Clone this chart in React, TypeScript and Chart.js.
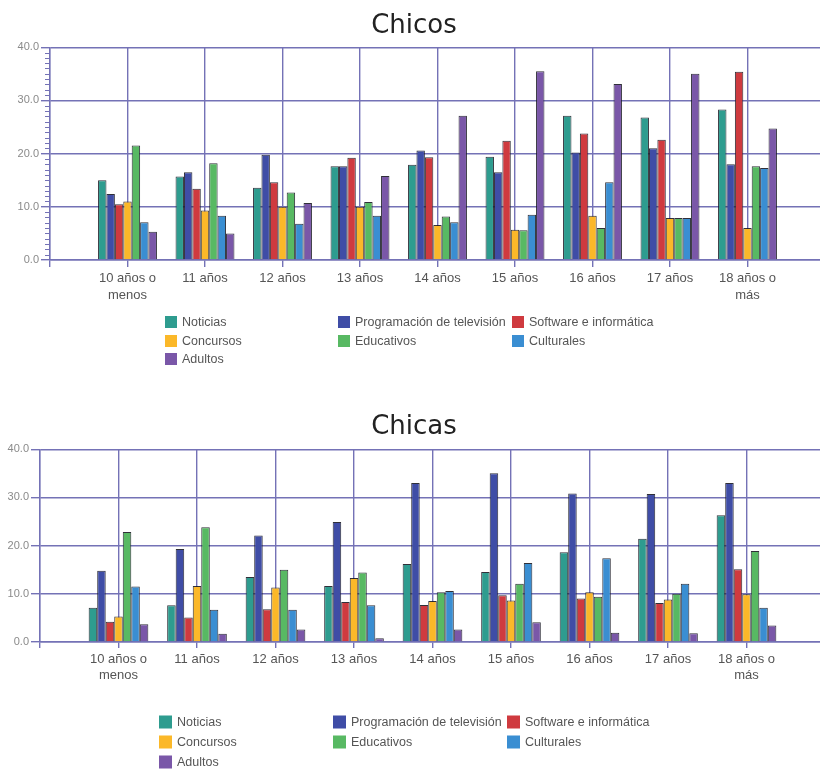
import React, { useEffect, useRef } from "react";
import { Chart, registerables } from "chart.js";

Chart.register(...registerables);

// ---------- data ----------
const categories: (string | string[])[] = [
  ["10 años o", "menos"],
  "11 años",
  "12 años",
  "13 años",
  "14 años",
  "15 años",
  "16 años",
  "17 años",
  ["18 años o", "más"],
];

const seriesNames = [
  "Noticias",
  "Programación de televisión",
  "Software e informática",
  "Concursos",
  "Educativos",
  "Culturales",
  "Adultos",
];

const seriesColors = [
  "#2E9C8F",
  "#3F4DA6",
  "#CF3A3F",
  "#FBB829",
  "#58B963",
  "#3A8ED2",
  "#7A57A8",
];

const yTicks = [0, 10, 20, 30, 40];

// Chicos
const chicosNoticias = [15.0, 15.7, 13.6, 17.6, 17.9, 19.4, 27.1, 26.8, 28.3];
const chicosProgramacion = [12.4, 16.5, 19.8, 17.6, 20.6, 16.5, 20.2, 21.0, 18.0];
const chicosSoftware = [10.5, 13.4, 14.6, 19.2, 19.3, 22.4, 23.8, 22.6, 35.4];
const chicosConcursos = [11.0, 9.3, 10.0, 10.0, 6.6, 5.7, 8.3, 7.9, 6.0];
const chicosEducativos = [21.5, 18.2, 12.7, 10.9, 8.2, 5.6, 6.0, 7.9, 17.6];
const chicosCulturales = [7.1, 8.3, 6.8, 8.3, 7.1, 8.5, 14.6, 7.9, 17.3];
const chicosAdultos = [5.3, 5.0, 10.7, 15.8, 27.1, 35.5, 33.1, 35.0, 24.7];

// Chicas
const chicasNoticias = [7.1, 7.6, 13.5, 11.6, 16.2, 14.5, 18.6, 21.4, 26.3];
const chicasProgramacion = [14.8, 19.3, 22.1, 24.9, 33.0, 35.0, 30.8, 30.7, 33.0];
const chicasSoftware = [4.2, 5.1, 6.8, 8.3, 7.7, 9.7, 9.0, 8.1, 15.1];
const chicasConcursos = [5.3, 11.6, 11.3, 13.3, 8.5, 8.6, 10.3, 8.8, 9.9];
const chicasEducativos = [22.8, 23.8, 15.0, 14.4, 10.3, 12.1, 9.4, 10.0, 18.9];
const chicasCulturales = [11.5, 6.7, 6.7, 7.6, 10.6, 16.4, 17.4, 12.1, 7.1];
const chicasAdultos = [3.7, 1.7, 2.6, 0.8, 2.6, 4.1, 1.9, 1.8, 3.4];

const chicosSeries = [
  chicosNoticias,
  chicosProgramacion,
  chicosSoftware,
  chicosConcursos,
  chicosEducativos,
  chicosCulturales,
  chicosAdultos,
];
const chicasSeries = [
  chicasNoticias,
  chicasProgramacion,
  chicasSoftware,
  chicasConcursos,
  chicasEducativos,
  chicasCulturales,
  chicasAdultos,
];

// ---------- styling ----------
const GRID = "#7472B6";
const SANS = "'Liberation Sans', Arial, sans-serif";

type PanelProps = {
  title: string;
  series: number[][];
  top: number;
  height: number;
  axisWidth: number;
  titlePadTop: number;
  titlePadBottom: number;
  xAxisHeight: number;
  bottomPad: number;
  labelLineHeight: number;
  xTickLength: number;
  minorTicks: boolean;
  legendCols: number[];
  legendRows: number[];
  legendBox: number;
};

const gridLegendPlugin = {
  id: "gridLegend",
  afterDraw(chart: any, _args: any, opts: any) {
    const ctx = chart.ctx;
    ctx.save();
    ctx.font = `12.5px ${SANS}`;
    ctx.textBaseline = "middle";
    chart.data.datasets.forEach((ds: any, i: number) => {
      const col = i % 3;
      const row = Math.floor(i / 3);
      const x = opts.cols[col];
      const y = opts.rows[row];
      const b = opts.box;
      ctx.fillStyle = ds.backgroundColor;
      ctx.fillRect(x, y - b / 2, b, b);
      ctx.fillStyle = "#555";
      ctx.fillText(ds.label, x + b + 5, y + 0.5);
    });
    ctx.restore();
  },
};

const minorTickPlugin = {
  id: "minorTicks",
  afterDatasetsDraw(chart: any, _args: any, opts: any) {
    if (!opts || !opts.enabled) return;
    const ys = chart.scales.y;
    const ctx = chart.ctx;
    ctx.save();
    ctx.strokeStyle = GRID;
    ctx.lineWidth = 1;
    for (let v = ys.min; v <= ys.max; v += 1) {
      if (v % 10 === 0) continue;
      const py = Math.round(ys.getPixelForValue(v)) + 0.5;
      ctx.beginPath();
      ctx.moveTo(ys.right - 5, py);
      ctx.lineTo(ys.right, py);
      ctx.stroke();
    }
    ctx.restore();
  },
};

function Panel(p: PanelProps) {
  const ref = useRef<HTMLCanvasElement | null>(null);
  useEffect(() => {
    if (!ref.current) return;
    const labels = ["", ...categories, ""];
    const chart = new Chart(ref.current, {
      type: "bar",
      data: {
        labels,
        datasets: p.series.map((vals, i) => ({
          label: seriesNames[i],
          data: [null, ...vals, null],
          backgroundColor: seriesColors[i],
          borderColor: "rgba(25,25,35,0.9)",
          borderWidth: 1,
          categoryPercentage: 0.76,
          barPercentage: 1,
        })),
      },
      options: {
        responsive: false,
        animation: false,
        layout: { padding: { left: 0, right: 0, top: 0, bottom: p.bottomPad } },
        plugins: {
          legend: { display: false },
          tooltip: { enabled: false },
          title: {
            display: true,
            text: p.title,
            color: "#222",
            font: { family: "'DejaVu Sans', Verdana, sans-serif", size: 26, weight: "normal" },
            padding: { top: p.titlePadTop, bottom: p.titlePadBottom },
          },
          gridLegend: { cols: p.legendCols, rows: p.legendRows, box: p.legendBox },
          minorTicks: { enabled: p.minorTicks },
        } as any,
        scales: {
          x: {
            type: "category",
            offset: false,
            grid: {
              color: GRID,
              lineWidth: 1.4,
              offset: false,
              drawTicks: true,
              tickLength: p.xTickLength,
              tickColor: GRID,
            },
            border: { display: true, color: GRID, width: 1.4 },
            ticks: {
              color: "#555",
              font: { family: SANS, size: 13, lineHeight: p.labelLineHeight / 13 },
              padding: 3,
              maxRotation: 0,
              minRotation: 0,
              autoSkip: false,
            },
            afterFit: (s: any) => {
              s.height = p.xAxisHeight;
            },
          },
          y: {
            min: 0,
            max: 40,
            afterBuildTicks: (s: any) => {
              s.ticks = yTicks.map((v) => ({ value: v }));
            },
            grid: {
              color: GRID,
              lineWidth: 1.4,
              drawTicks: true,
              tickLength: 9,
              tickColor: GRID,
            },
            border: { display: true, color: GRID, width: 1.4 },
            ticks: {
              color: "#8a8a8a",
              font: { family: SANS, size: 11 },
              padding: 2,
              callback: (v: any) => Number(v).toFixed(1),
            },
            afterFit: (s: any) => {
              s.width = p.axisWidth;
            },
          },
        },
      },
      plugins: [gridLegendPlugin, minorTickPlugin],
    } as any);
    return () => chart.destroy();
  }, []);
  return (
    <canvas
      ref={ref}
      width={828}
      height={p.height}
      style={{ position: "absolute", left: 0, top: p.top, display: "block" }}
    />
  );
}

export default function App() {
  return (
    <div
      style={{
        position: "absolute",
        left: 0,
        top: 0,
        width: 820,
        height: 769,
        overflow: "hidden",
        background: "#fff",
      }}
    >
      <Panel
        title="Chicos"
        series={chicosSeries}
        top={0}
        height={380}
        axisWidth={50}
        titlePadTop={11}
        titlePadBottom={5}
        xAxisHeight={45}
        bottomPad={380 - 260 - 45}
        labelLineHeight={17}
        xTickLength={7}
        minorTicks={true}
        legendCols={[165, 338, 512]}
        legendRows={[322, 341, 359]}
        legendBox={12}
      />
      <Panel
        title="Chicas"
        series={chicasSeries}
        top={400}
        height={369}
        axisWidth={40}
        titlePadTop={12}
        titlePadBottom={6}
        xAxisHeight={40}
        bottomPad={369 - 242 - 40}
        labelLineHeight={16}
        xTickLength={6}
        minorTicks={false}
        legendCols={[159, 333, 507]}
        legendRows={[322, 342, 362]}
        legendBox={13}
      />
    </div>
  );
}
